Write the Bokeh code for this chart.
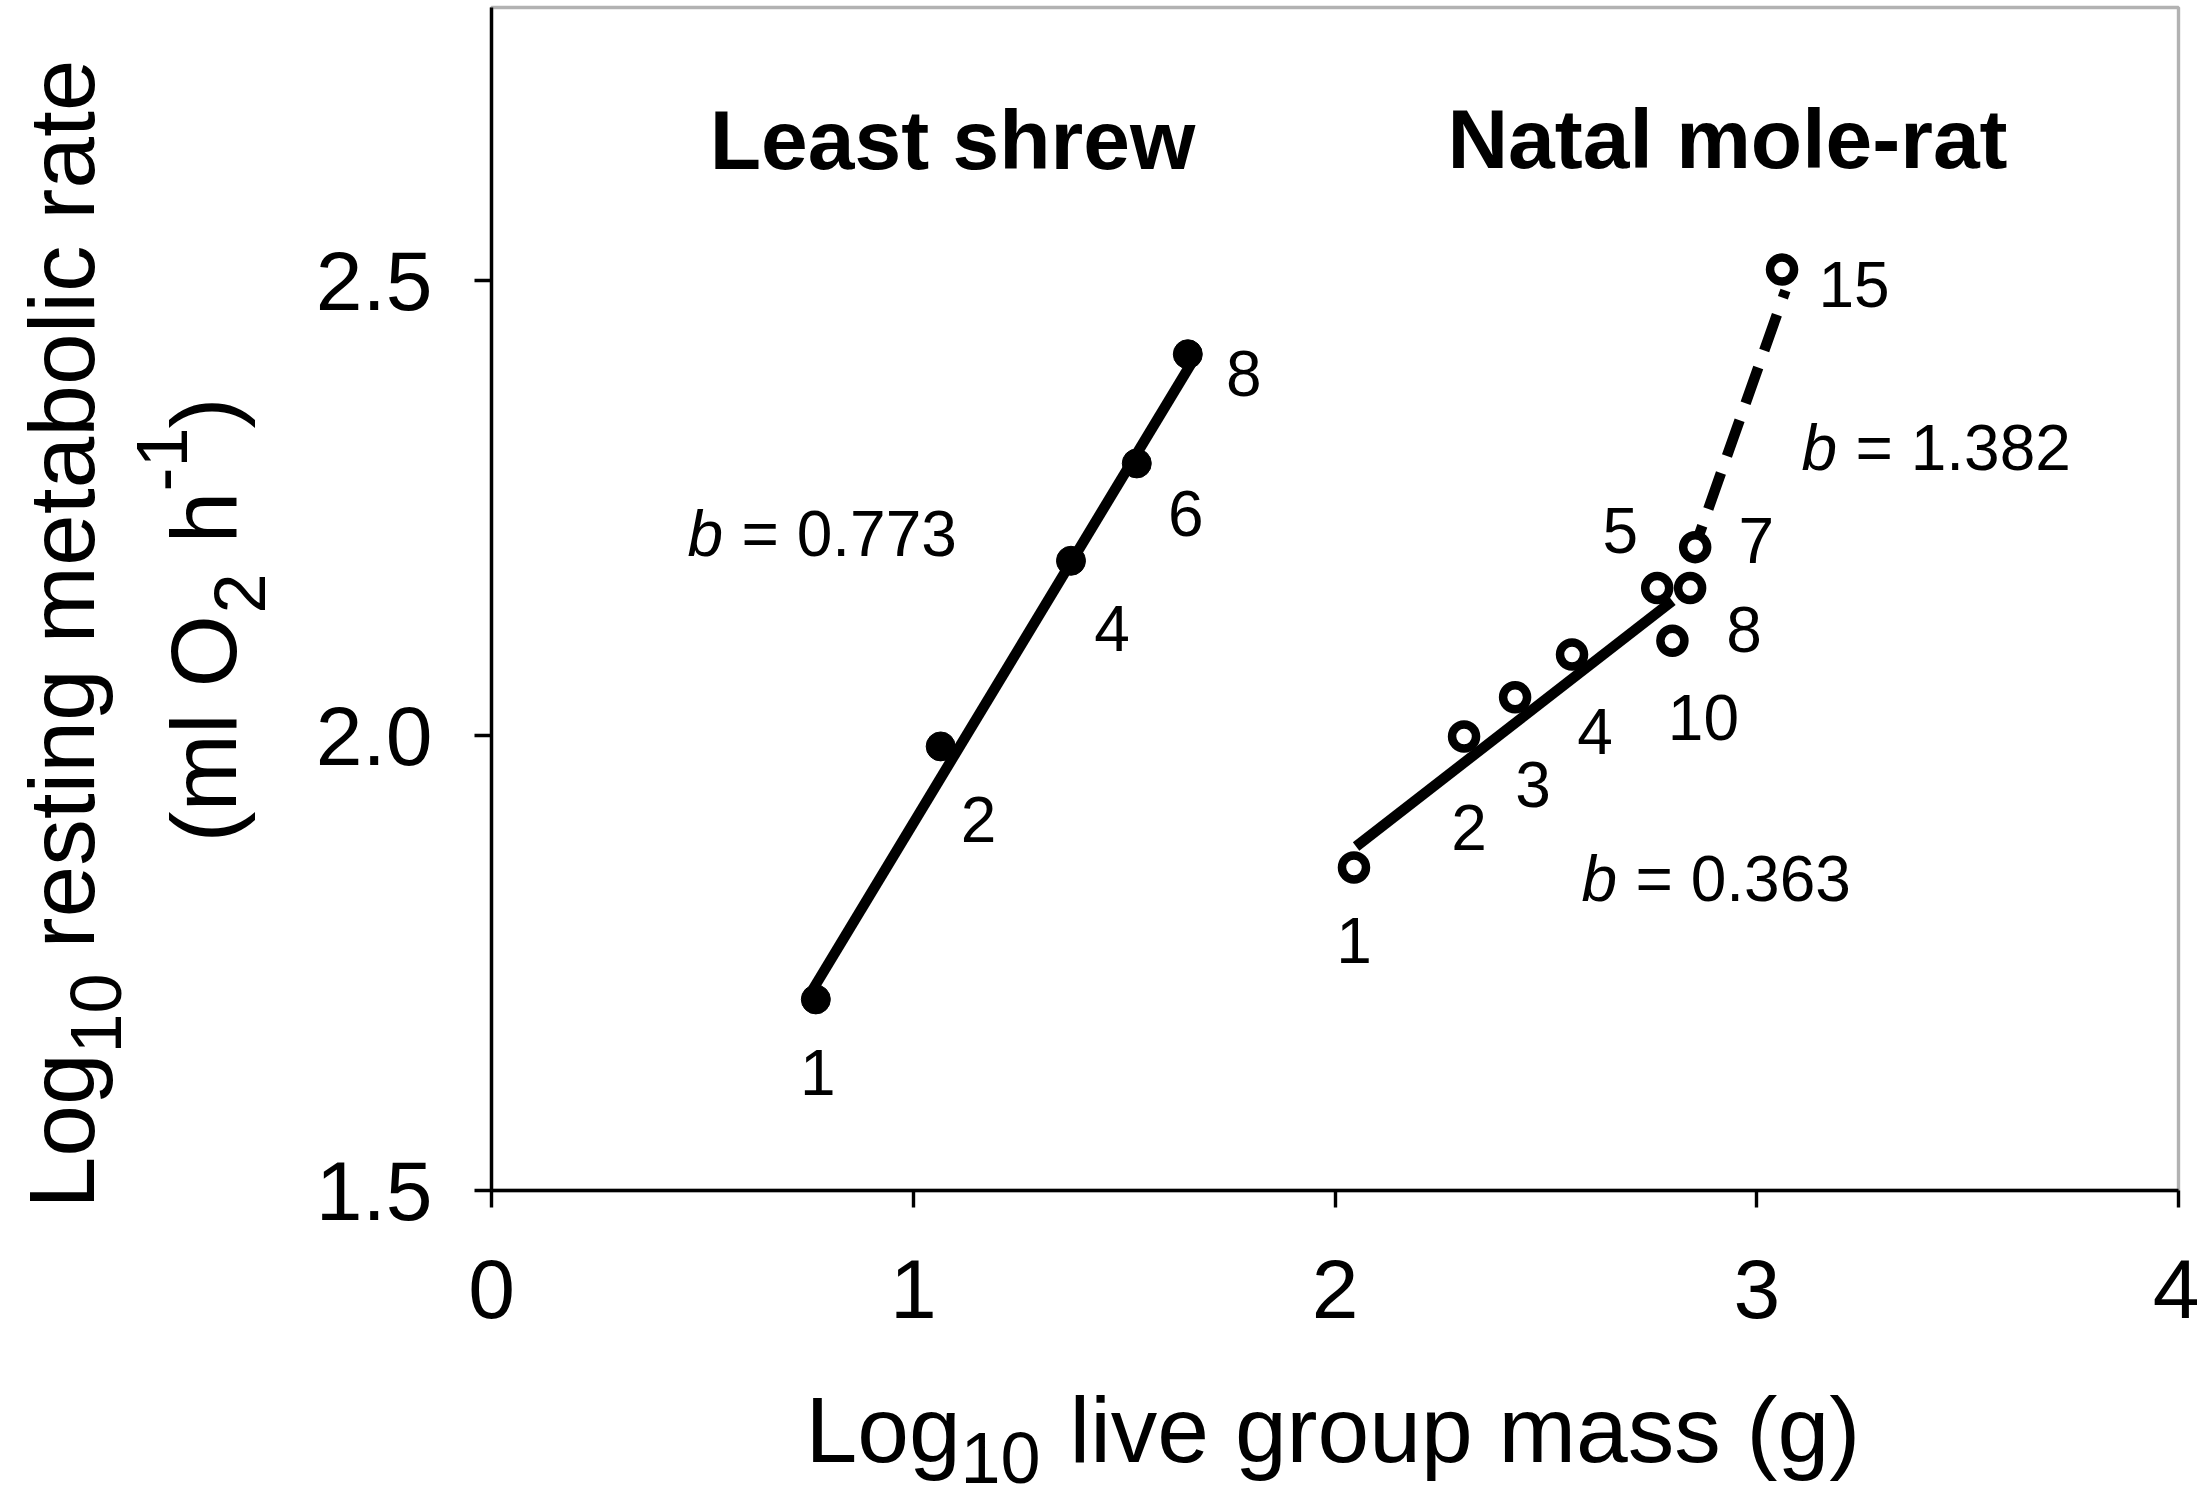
from bokeh.plotting import figure
from bokeh.models import (Label, FixedTicker, ColumnDataSource, Range1d, NumeralTickFormatter,
                          LinearAxis, BoxAnnotation)
from bokeh.core.properties import value
from bokeh.embed import file_html
from bokeh.resources import INLINE

# ---------------- data ----------------
shrew_mass = [0.769, 1.065, 1.374, 1.530, 1.651]
shrew_rmr = [1.710, 1.988, 2.192, 2.299, 2.419]
shrew_group = ["1", "2", "4", "6", "8"]

mole_mass = [2.045, 2.306, 2.427, 2.562, 2.764, 2.854, 2.842, 2.800, 3.060]
mole_rmr = [1.855, 1.999, 2.042, 2.089, 2.162, 2.207, 2.162, 2.104, 2.512]
mole_group = ["1", "2", "3", "4", "5", "7", "8", "10", "15"]

shrew_fit_x = [0.762, 1.658]
shrew_fit_y = [1.721, 2.408]
mole_fit_x = [2.050, 2.800]
mole_fit_y = [1.878, 2.148]
mole_dash_x = [2.863, 3.068]
mole_dash_y = [2.220, 2.489]

slope_texts = ["0.773", "0.363", "1.382"]
species = ["Least shrew", "Natal mole-rat"]

x_ticks = [0, 1, 2, 3, 4]
y_ticks = [1.5, 2.0, 2.5]
x_bounds = (0, 4)
y_bounds = (1.5, 2.8)

# ---------------- layout / style (not data) ----------------
W, H = 2199, 1500
X0, Y0 = 491.0, 1190.0        # pixel position of (0, 1.5)
PX, PY = 421.75, 910.0        # pixels per unit
K = 0.38                      # renderer baseline correction (fraction of font size)


def dxp(X):
    return (X - X0) / PX


def dyp(Y):
    return 1.5 + (Y0 - Y) / PY


FONT = "Liberation Sans"
LAB_SHIFT = round(K * 64)
shrew_dx = [2, 38, 41, 49, 56]
shrew_dy = [d - LAB_SHIFT for d in [97, 97, 92, 74, 43]]
mole_dx = [0, 5, 18, 23, -37, 61, 54, 31, 72]
mole_dy = [d - LAB_SHIFT for d in [97, 115, 111, 101, -34, 17, 65, 101, 39]]
slope_px = [(687, 558), (1581, 903), (1801, 472)]
species_px = [(952, 171), (1727, 170)]

p = figure(width=W, height=H, x_range=Range1d(dxp(0), dxp(W)), y_range=Range1d(dyp(H), dyp(0)),
           output_backend="svg", toolbar_location=None, title=None,
           x_axis_location=None, y_axis_location=None,
           min_border_left=0, min_border_right=0, min_border_top=0, min_border_bottom=0)
p.background_fill_color = "white"
p.border_fill_color = "white"
p.outline_line_color = None
p.xgrid.visible = False
p.ygrid.visible = False

xaxis = LinearAxis(fixed_location=y_bounds[0], bounds=x_bounds,
                   ticker=FixedTicker(ticks=x_ticks, minor_ticks=[]),
                   formatter=NumeralTickFormatter(format="0"))
yaxis = LinearAxis(fixed_location=x_bounds[0], bounds=y_bounds,
                   ticker=FixedTicker(ticks=y_ticks, minor_ticks=[]),
                   formatter=NumeralTickFormatter(format="0.0"))
for ax in (xaxis, yaxis):
    ax.axis_line_color = "black"
    ax.axis_line_width = 3.4
    ax.major_tick_line_color = "black"
    ax.major_tick_line_width = 3.4
    ax.major_tick_out = 17
    ax.major_tick_in = 0
    ax.minor_tick_out = 0
    ax.minor_tick_in = 0
    ax.major_label_text_font = FONT
    ax.major_label_text_font_size = "84px"
    ax.major_label_text_color = "black"
xaxis.major_label_standoff = 52
yaxis.major_label_standoff = 42
p.add_layout(xaxis, "below")
p.add_layout(yaxis, "left")

# plot box (top and right edges)
p.add_layout(BoxAnnotation(left=x_bounds[0], right=x_bounds[1], bottom=y_bounds[0], top=y_bounds[1],
                           fill_alpha=0, line_color="black", line_width=3.4))

# regression lines
p.line(shrew_fit_x, shrew_fit_y, line_color="black", line_width=10.5, line_cap="butt")
p.line(mole_fit_x, mole_fit_y, line_color="black", line_width=10.5, line_cap="butt")
p.line(mole_dash_x, mole_dash_y, line_color="black", line_width=10.5, line_cap="butt",
       line_dash="38 18", line_dash_offset=28)

# points
shrew_src = ColumnDataSource(dict(x=shrew_mass, y=shrew_rmr, n=shrew_group, dx=shrew_dx, dy=shrew_dy))
mole_src = ColumnDataSource(dict(x=mole_mass, y=mole_rmr, n=mole_group, dx=mole_dx, dy=mole_dy))
p.scatter("x", "y", source=shrew_src, marker="circle", size=29, fill_color="black",
          line_color="black", line_width=1)
p.scatter("x", "y", source=mole_src, marker="circle", size=24, fill_color="white",
          line_color="black", line_width=8.5)

# group-size labels
for src in (shrew_src, mole_src):
    p.text("x", "y", text="n", source=src, x_offset="dx", y_offset="dy",
           text_font=value(FONT), text_font_size="64px", text_align="center",
           text_baseline="alphabetic", text_color="black")


def lab(text, X, Y, size, angle=0, style="normal", align="left", x_offset=0):
    """Place text whose baseline starts at pixel (X, Y)."""
    shift = K * size
    if angle == 0:
        Y = Y - shift
    else:
        X = X - shift
    p.add_layout(Label(x=dxp(X), y=dyp(Y), x_offset=x_offset, text=text, text_font=FONT,
                       text_font_style=style, text_font_size=f"{size}px", angle=angle,
                       angle_units="deg", text_align=align, text_baseline="alphabetic",
                       text_color="black"))


# slope labels: italic b, then "= value"
for (X, Y), s in zip(slope_px, slope_texts):
    lab("b", X, Y, 64, style="italic")
    lab("= " + s, X, Y, 64, x_offset=54)

# species titles
for (X, Y), s in zip(species_px, species):
    lab(s, X, Y, 84, style="bold", align="center")

# x-axis title: Log10 live group mass (g)
lab("Log", 805, 1465, 93)
lab("10", 960, 1485, 72)
lab("live group mass (g)", 1069, 1465, 93)

# y-axis title, line 1: Log10 resting metabolic rate
lab("Log", 97, 1208, 93, 90)
lab("10", 123, 1053, 72, 90)
lab("resting metabolic rate", 97, 948, 93, 90)
# line 2: (ml O2 h-1)
lab("(ml O", 239, 842, 93, 90)
lab("2", 267, 613, 72, 90)
lab("h", 239, 543, 93, 90)
lab("-1", 189, 491, 72, 90)
lab(")", 239, 428, 93, 90)

open("out.html", "w").write(file_html(p, INLINE))
